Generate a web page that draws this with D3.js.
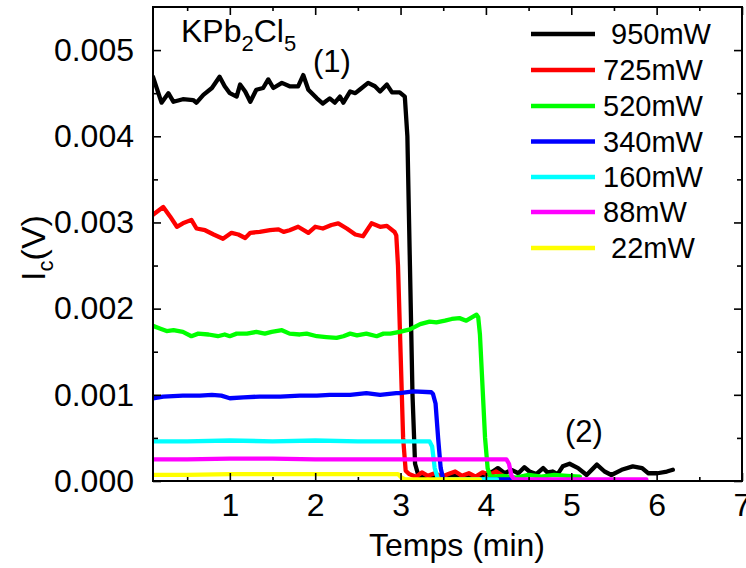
<!DOCTYPE html>
<html>
<head>
<meta charset="utf-8">
<script src="https://cdn.jsdelivr.net/npm/d3@7"></script>
<style>
  html, body { margin: 0; padding: 0; background: #fff; }
  svg { display: block; font-family: "Liberation Sans", Arial, Helvetica, sans-serif; }
  text { fill: #000; }
</style>
</head>
<body>
<svg id="chart" width="746" height="568"></svg>
<script>
// ---------- data ----------
const seriesNames = [" 950mW", "725mW", "520mW", "340mW", "160mW", "88mW", " 22mW"];
const seriesColors = ["#000000", "#ff0000", "#00ff00", "#0000ff", "#00ffff", "#ff00ff", "#ffff00"];

// 950 mW (time in min, Ic in V)
const t950 = [0.10,0.20,0.28,0.34,0.45,0.57,0.61,0.69,0.79,0.88,0.94,1.00,1.08,1.12,1.18,1.24,1.31,1.39,1.45,1.51,1.61,1.70,1.80,1.86,1.92,2.02,2.09,2.17,2.23,2.29,2.33,2.41,2.47,2.52,2.62,2.70,2.76,2.84,2.90,2.99,3.05,3.08,3.11,3.14,3.17,3.21,3.30,3.40,3.50,3.60,3.70,3.80,3.90,4.00,4.08,4.14,4.22,4.30,4.38,4.45,4.51,4.59,4.67,4.72,4.78,4.84,4.90,4.98,5.08,5.18,5.30,5.39,5.47,5.59,5.72,5.83,5.90,6.01,6.12,6.19];
const v950 = [0.00469,0.00439,0.00450,0.00440,0.00443,0.00442,0.00439,0.00448,0.00456,0.00469,0.00458,0.00450,0.00446,0.00460,0.00452,0.00440,0.00454,0.00456,0.00466,0.00456,0.00462,0.00458,0.00458,0.00471,0.00454,0.00444,0.00438,0.00444,0.00439,0.00446,0.00439,0.00452,0.00450,0.00454,0.00462,0.00458,0.00452,0.00460,0.00451,0.00451,0.00446,0.00400,0.00250,0.00100,0.00020,0.00006,0.00004,0.00006,0.00005,0.00007,0.00004,0.00006,0.00005,0.00008,0.00011,0.00015,0.00009,0.00013,0.00009,0.00016,0.00011,0.00008,0.00015,0.00010,0.00011,0.00008,0.00017,0.00020,0.00015,0.00007,0.00019,0.00011,0.00007,0.00013,0.00017,0.00015,0.00009,0.00009,0.00011,0.00013];

// 725 mW
const t725 = [0.10,0.22,0.30,0.38,0.45,0.55,0.61,0.71,0.81,0.92,1.02,1.10,1.18,1.24,1.35,1.47,1.57,1.63,1.70,1.80,1.92,2.00,2.09,2.19,2.27,2.37,2.47,2.56,2.66,2.76,2.84,2.93,2.95,2.97,3.00,3.03,3.06,3.10,3.18,3.25,3.32,3.40,3.48,3.56,3.64,3.72,3.80,3.88,3.96,4.04,4.12,4.20,4.28];
const v725 = [0.00309,0.00318,0.00307,0.00295,0.00299,0.00303,0.00293,0.00291,0.00286,0.00281,0.00288,0.00286,0.00282,0.00288,0.00289,0.00291,0.00292,0.00289,0.00291,0.00295,0.00288,0.00295,0.00293,0.00297,0.00299,0.00293,0.00286,0.00284,0.00299,0.00295,0.00296,0.00289,0.00285,0.00250,0.00150,0.00050,0.00012,0.00008,0.00005,0.00010,0.00006,0.00009,0.00005,0.00008,0.00011,0.00006,0.00009,0.00005,0.00010,0.00007,0.00011,0.00006,0.00004];

// 520 mW
const t520 = [0.10,0.18,0.26,0.34,0.45,0.55,0.63,0.75,0.86,0.94,1.00,1.08,1.20,1.31,1.41,1.49,1.61,1.70,1.82,1.90,2.02,2.13,2.25,2.33,2.41,2.49,2.60,2.72,2.80,2.88,2.99,3.11,3.23,3.34,3.42,3.52,3.60,3.69,3.77,3.89,3.91,3.93,3.96,3.99,4.02,4.05,4.20,4.35,4.50,4.65,4.80,4.95,5.10];
const v520 = [0.00180,0.00177,0.00174,0.00175,0.00173,0.00168,0.00171,0.00170,0.00168,0.00170,0.00168,0.00171,0.00171,0.00173,0.00171,0.00173,0.00175,0.00171,0.00170,0.00171,0.00168,0.00167,0.00166,0.00168,0.00171,0.00169,0.00171,0.00168,0.00171,0.00171,0.00173,0.00176,0.00182,0.00185,0.00184,0.00186,0.00188,0.00189,0.00186,0.00193,0.00190,0.00170,0.00110,0.00050,0.00015,0.00005,0.00006,0.00004,0.00007,0.00005,0.00007,0.00006,0.00005];

// 340 mW
const t340 = [0.10,0.22,0.45,0.65,0.79,0.90,1.00,1.16,1.35,1.59,1.82,2.02,2.17,2.41,2.60,2.76,2.95,2.99,3.15,3.36,3.38,3.41,3.44,3.47,3.50,3.60,3.80,4.00,4.20,4.31];
const v340 = [0.00096,0.00098,0.00099,0.00099,0.00100,0.00099,0.00096,0.00097,0.00098,0.00098,0.00099,0.00099,0.00100,0.00100,0.00102,0.00100,0.00102,0.00102,0.00104,0.00103,0.00101,0.00090,0.00050,0.00015,0.00002,0.00002,0.00002,0.00002,0.00002,0.00002];

// 160 mW
const t160 = [0.10,0.50,1.00,1.50,2.00,2.50,3.00,3.34,3.37,3.40,3.44,3.60,3.80,4.00,4.13];
const v160 = [0.00046,0.00046,0.00047,0.00046,0.00047,0.00046,0.00046,0.00046,0.00040,0.00015,0.00002,0.00002,0.00002,0.00002,0.00002];

// 88 mW
const t88 = [0.10,0.50,1.00,1.50,2.00,2.50,3.00,3.50,4.00,4.24,4.27,4.30,4.33,4.60,5.00,5.40,5.88];
const v88 = [0.00025,0.00025,0.00026,0.00026,0.00025,0.00025,0.00025,0.00025,0.00025,0.00025,0.00020,0.00006,0.00002,0.00002,0.00002,0.00002,0.00002];

// 22 mW
const t22 = [0.10,0.50,1.00,1.50,2.00,2.50,2.97,3.01,3.05,3.40,3.93];
const v22 = [0.00007,0.00007,0.00008,0.00008,0.00008,0.00008,0.00008,0.00004,0.00002,0.00002,0.00002];

const seriesT = [t950, t725, t520, t340, t160, t88, t22];
const seriesV = [v950, v725, v520, v340, v160, v88, v22];

const xTickValues = [1, 2, 3, 4, 5, 6, 7];
const xMinorValues = [0.5, 1.5, 2.5, 3.5, 4.5, 5.5, 6.5];
const yTickValues = [0, 0.001, 0.002, 0.003, 0.004, 0.005];
const yMinorValues = [0.0005, 0.0015, 0.0025, 0.0035, 0.0045];

// ---------- layout ----------
const svg = d3.select("#chart");
const L = 153, R = 742, T = 7, B = 481;
const x = d3.scaleLinear().domain([0.1, 7]).range([L, R]);
const y = d3.scaleLinear().domain([0, 0.0055]).range([B, T]);

svg.append("rect").attr("width", 746).attr("height", 568).attr("fill", "#fff");

svg.append("defs").append("clipPath").attr("id", "clip")
  .append("rect").attr("x", L).attr("y", T).attr("width", R - L).attr("height", B - T);

// data lines
const line = d3.line().x(d => x(d[0])).y(d => y(d[1]));
const g = svg.append("g").attr("clip-path", "url(#clip)");
seriesT.forEach((ts, i) => {
  const pts = ts.map((t, j) => [t, seriesV[i][j]]);
  g.append("path").datum(pts)
    .attr("d", line)
    .attr("fill", "none")
    .attr("stroke", seriesColors[i])
    .attr("stroke-width", 4.3)
    .attr("stroke-linejoin", "round")
    .attr("stroke-linecap", "round");
});

// axes (ticks inward, all four sides)
const fs = 32;
function styleAxis(sel) {
  sel.select(".domain").remove();
  sel.selectAll(".tick line").attr("stroke", "#000").attr("stroke-width", 1.6);
  sel.selectAll("text").attr("font-size", fs).attr("fill", "#000");
}
const xAxis = svg.append("g").attr("transform", `translate(0,${B})`)
  .call(d3.axisBottom(x).tickValues(xTickValues).tickSize(-8).tickPadding(16).tickFormat(d3.format("d")));
styleAxis(xAxis);
xAxis.selectAll("text").attr("dy", null).attr("y", 35);
const xAxisMinor = svg.append("g").attr("transform", `translate(0,${B})`)
  .call(d3.axisBottom(x).tickValues(xMinorValues).tickSize(-4).tickFormat(""));
styleAxis(xAxisMinor);
const xTop = svg.append("g").attr("transform", `translate(0,${T})`)
  .call(d3.axisTop(x).tickValues(xTickValues).tickSize(-8).tickFormat(""));
styleAxis(xTop);
const xTopMinor = svg.append("g").attr("transform", `translate(0,${T})`)
  .call(d3.axisTop(x).tickValues(xMinorValues).tickSize(-4).tickFormat(""));
styleAxis(xTopMinor);

const yAxis = svg.append("g").attr("transform", `translate(${L},0)`)
  .call(d3.axisLeft(y).tickValues(yTickValues).tickSize(-8).tickPadding(19).tickFormat(d3.format(".3f")));
styleAxis(yAxis);
const yAxisMinor = svg.append("g").attr("transform", `translate(${L},0)`)
  .call(d3.axisLeft(y).tickValues(yMinorValues).tickSize(-5).tickFormat(""));
styleAxis(yAxisMinor);
const yRight = svg.append("g").attr("transform", `translate(${R},0)`)
  .call(d3.axisRight(y).tickValues(yTickValues).tickSize(-8).tickFormat(""));
styleAxis(yRight);
const yRightMinor = svg.append("g").attr("transform", `translate(${R},0)`)
  .call(d3.axisRight(y).tickValues(yMinorValues).tickSize(-5).tickFormat(""));
styleAxis(yRightMinor);

// frame
svg.append("rect").attr("x", L).attr("y", T).attr("width", R - L).attr("height", B - T)
  .attr("fill", "none").attr("stroke", "#000").attr("stroke-width", 2);

// axis titles
svg.append("text").attr("x", 457).attr("y", 556).attr("text-anchor", "middle")
  .attr("font-size", fs).text("Temps (min)");

const yl = svg.append("text").attr("transform", "translate(45,248) rotate(-90)")
  .attr("text-anchor", "middle").attr("font-size", 34);
yl.append("tspan").text("I");
yl.append("tspan").attr("font-size", 22).attr("dy", 8).text("c");
yl.append("tspan").attr("dy", -8).text("(V)");

// annotations
const kt = svg.append("text").attr("x", 181).attr("y", 42).attr("font-size", 32);
kt.append("tspan").text("KPb");
kt.append("tspan").attr("font-size", 22).attr("dy", 9).text("2");
kt.append("tspan").attr("dy", -9).text("Cl");
kt.append("tspan").attr("font-size", 22).attr("dy", 9).text("5");

svg.append("text").attr("x", 313).attr("y", 72).attr("font-size", 31).text("(1)");
svg.append("text").attr("x", 565).attr("y", 442).attr("font-size", 31).text("(2)");

// legend
const legRowY = [34, 70, 106, 141.5, 177, 212, 248];
const leg = svg.append("g");
seriesNames.forEach((name, i) => {
  leg.append("line").attr("x1", 531).attr("x2", 595)
    .attr("y1", legRowY[i]).attr("y2", legRowY[i])
    .attr("stroke", seriesColors[i]).attr("stroke-width", 4.3);
  leg.append("text").attr("x", 603).attr("y", legRowY[i]).attr("dy", "0.36em")
    .attr("font-size", 29).style("white-space", "pre").text(name);
});
</script>
</body>
</html>
